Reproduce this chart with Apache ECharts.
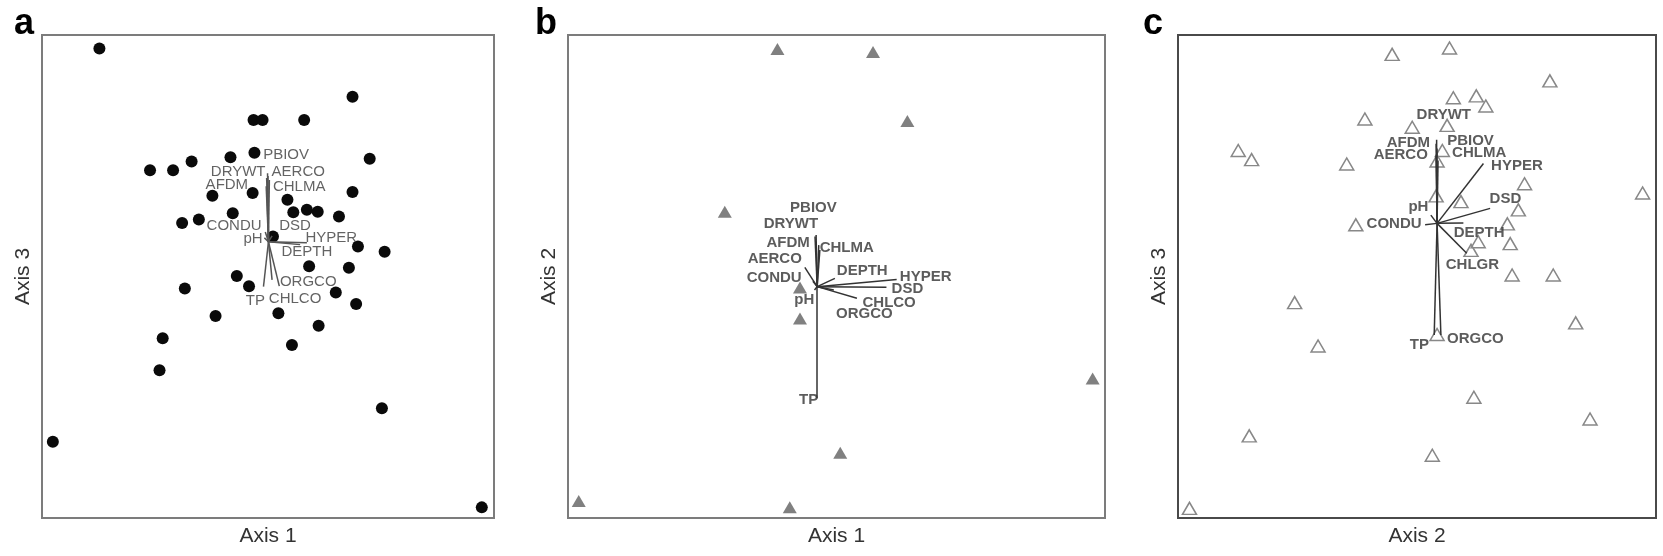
<!DOCTYPE html>
<html>
<head>
<meta charset="utf-8">
<script src="https://cdn.jsdelivr.net/npm/echarts@6/dist/echarts.min.js"></script>
<style>
html,body{margin:0;padding:0;background:#fff;}
#chart{width:1663px;height:556px;}
</style>
</head>
<body>
<div id="chart"></div>
<script>
// ---------- Panel a : Axis 1 vs Axis 3 (sites = filled circles) ----------
const pointsA = [
  [12.7,97.2],[68.7,87.2],[46.8,82.4],[48.8,82.4],[58.0,82.4],[47.0,75.6],[41.7,74.7],
  [33.1,73.8],[23.9,72.0],[29.0,72.0],[72.5,74.4],[37.7,66.7],[46.6,67.3],[68.7,67.5],
  [54.3,65.9],[55.6,63.3],[58.6,63.8],[61.0,63.4],[65.7,62.4],[42.2,63.1],[34.7,61.8],
  [31.0,61.1],[51.1,58.3],[69.9,56.2],[75.8,55.1],[59.1,52.1],[67.9,51.8],[43.1,50.1],
  [45.8,48.0],[31.6,47.5],[65.0,46.7],[69.5,44.3],[52.3,42.4],[38.4,41.8],[61.2,39.8],
  [26.7,37.2],[55.3,35.8],[26.0,30.6],[75.2,22.7],[2.4,15.8],[97.3,2.2]
];
const varsA = ['PBIOV','AERCO','DRYWT','CHLMA','AFDM','CONDU','pH','DSD','HYPER','DEPTH','ORGCO','TP','CHLCO'];
const originA = [50.1,57.2];
const vectorEndA = [
  [49.9,71.4],[50.0,70.8],[49.7,70.4],[50.3,70.0],[49.6,68.7],[49.4,59.2],[49.2,58.0],
  [50.9,58.4],[58.6,57.0],[57.1,56.6],[50.9,49.3],[49.0,47.9],[52.5,48.0]
];
const labelPosA = [
  [54.0,75.2],[56.7,71.7],[43.4,71.7],[56.9,68.6],[40.9,69.0],[42.5,60.5],[46.7,57.8],
  [56.0,60.5],[64.0,58.0],[58.6,55.0],[58.9,48.8],[47.2,44.9],[56.0,45.3]
];

// ---------- Panel b : Axis 1 vs Axis 2 (sites = grey filled triangles) ----------
const pointsB = [
  [39.0,97.1],[56.8,96.5],[63.2,82.2],[29.2,63.4],[43.2,47.7],[43.2,41.3],
  [97.7,28.9],[50.7,13.5],[2.0,3.5],[41.3,2.2]
];
const varsB = ['PBIOV','DRYWT','AFDM','CHLMA','AERCO','DEPTH','HYPER','CONDU','DSD','pH','CHLCO','ORGCO','TP'];
const originB = [46.4,47.9];
const vectorEndB = [
  [46.2,58.6],[46.0,58.3],[46.7,56.5],[46.9,55.5],[44.1,51.9],[49.7,49.6],[61.2,49.4],
  [45.6,49.0],[59.3,47.8],[45.9,47.2],[53.8,45.5],[49.5,47.2],[46.4,24.8]
];
const labelPosB = [
  [45.7,64.3],[41.5,60.8],[41.0,57.0],[51.9,56.0],[38.5,53.6],[54.8,51.2],[66.6,50.0],
  [38.4,49.8],[63.2,47.4],[44.0,45.1],[59.8,44.6],[55.2,42.2],[44.8,24.4]
];

// ---------- Panel c : Axis 2 vs Axis 3 (sites = open triangles) ----------
const pointsC = [
  [44.8,96.0],[56.8,97.3],[77.8,90.5],[57.6,87.0],[62.4,87.4],[64.4,85.3],[39.1,82.6],
  [49.0,80.9],[56.3,81.3],[12.6,76.1],[15.4,74.2],[55.3,76.1],[54.2,73.9],[35.3,73.3],
  [72.5,69.2],[97.2,67.3],[54.0,66.7],[59.2,65.5],[71.2,63.8],[37.2,60.7],[68.9,60.9],
  [62.8,57.2],[69.5,56.8],[61.3,55.4],[69.9,50.3],[78.5,50.3],[24.4,44.6],[83.2,40.4],
  [54.2,38.0],[29.3,35.6],[61.9,25.0],[86.2,20.5],[14.9,17.0],[53.2,13.0],[2.4,2.0]
];
const varsC = ['DRYWT','AFDM','PBIOV','AERCO','CHLMA','HYPER','DSD','pH','CONDU','DEPTH','CHLGR','TP','ORGCO'];
const originC = [54.2,61.0];
const vectorEndC = [
  [54.1,78.3],[54.0,77.5],[54.2,76.5],[54.0,75.0],[54.4,74.0],[63.9,73.4],[65.3,64.1],
  [52.9,62.7],[51.7,60.7],[59.7,61.1],[60.4,54.8],[53.6,37.9],[55.0,37.9]
];
const labelPosC = [
  [55.6,83.5],[48.2,77.7],[61.2,78.1],[46.6,75.1],[63.0,75.7],[70.9,72.9],[68.5,66.0],
  [50.3,64.5],[45.2,60.8],[63.0,59.0],[61.6,52.5],[50.5,35.8],[62.2,37.0]
];

const axisTitles = [['Axis 1','Axis 3'],['Axis 1','Axis 2'],['Axis 2','Axis 3']];
const panelLetters = ['a','b','c'];

const FONT = 'Liberation Sans, Arial, sans-serif';
const grids = [
  {left:42, top:35, width:452, height:483, borderColor:'#7c7c7c'},
  {left:568, top:35, width:537, height:483, borderColor:'#7c7c7c'},
  {left:1178, top:35, width:478, height:483, borderColor:'#4a4a4a'}
];

function mkX(i){
  return {gridIndex:i, type:'value', min:0, max:100,
    axisLine:{show:false}, axisTick:{show:false}, axisLabel:{show:false}, splitLine:{show:false},
    name:axisTitles[i][0], nameLocation:'middle', nameGap:8,
    nameTextStyle:{fontSize:21, color:'#333', fontFamily:FONT, verticalAlign:'top'}};
}
function mkY(i){
  return {gridIndex:i, type:'value', min:0, max:100,
    axisLine:{show:false}, axisTick:{show:false}, axisLabel:{show:false}, splitLine:{show:false},
    name:axisTitles[i][1], nameLocation:'middle', nameGap:8, nameRotate:90,
    nameTextStyle:{fontSize:21, color:'#333', fontFamily:FONT}};
}
function vecSeries(i, origin, ends, color){
  return {type:'lines', coordinateSystem:'cartesian2d', xAxisIndex:i, yAxisIndex:i,
    silent:true, z:3,
    lineStyle:{color:color, width:1.5, opacity:1},
    data: ends.map(e => ({coords:[origin, e]}))};
}
function labelSeries(i, names, pos, style){
  return {type:'scatter', xAxisIndex:i, yAxisIndex:i, symbolSize:1, silent:true, z:5,
    itemStyle:{color:'rgba(0,0,0,0)'},
    label:Object.assign({show:true, position:'inside', formatter:'{b}', fontFamily:FONT}, style),
    data: names.map((n,k) => ({name:n, value:pos[k]}))};
}

const option = {
  backgroundColor:'#ffffff',
  animation:false,
  grid: grids.map(g => ({left:g.left, top:g.top, width:g.width, height:g.height,
    show:true, borderColor:g.borderColor, borderWidth:2, backgroundColor:'#fff', containLabel:false})),
  xAxis:[mkX(0), mkX(1), mkX(2)],
  yAxis:[mkY(0), mkY(1), mkY(2)],
  graphic: [
    {type:'text', left:14, top:6, style:{text:panelLetters[0], font:'bold 36px '+FONT, fill:'#000'}},
    {type:'text', left:535, top:6, style:{text:panelLetters[1], font:'bold 36px '+FONT, fill:'#000'}},
    {type:'text', left:1143, top:6, style:{text:panelLetters[2], font:'bold 36px '+FONT, fill:'#000'}}
  ],
  series: [
    {type:'scatter', xAxisIndex:0, yAxisIndex:0, symbol:'circle', symbolSize:12, z:2,
     itemStyle:{color:'#0a0a0a', opacity:1}, data:pointsA},
    vecSeries(0, originA, vectorEndA, '#555'),
    labelSeries(0, varsA, labelPosA, {fontSize:15, color:'#3c3c3c', fontWeight:'normal'}),

    {type:'scatter', xAxisIndex:1, yAxisIndex:1, symbol:'triangle', symbolSize:[14,12], z:2,
     itemStyle:{color:'#808080', opacity:1}, data:pointsB},
    vecSeries(1, originB, vectorEndB, '#333'),
    labelSeries(1, varsB, labelPosB, {fontSize:15, color:'#333', fontWeight:'bold'}),

    {type:'scatter', xAxisIndex:2, yAxisIndex:2, symbol:'triangle', symbolSize:[14,12], z:2,
     itemStyle:{color:'rgba(255,255,255,0)', borderColor:'#888', borderWidth:1.5, opacity:1}, data:pointsC},
    vecSeries(2, originC, vectorEndC, '#333'),
    labelSeries(2, varsC, labelPosC, {fontSize:15, color:'#333', fontWeight:'bold'})
  ]
};

const chart = echarts.init(document.getElementById('chart'), null, {renderer:'canvas'});
chart.setOption(option);
</script>
</body>
</html>
